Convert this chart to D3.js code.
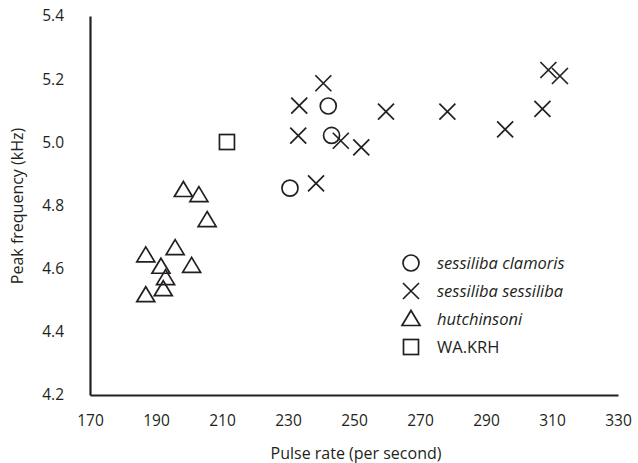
<!DOCTYPE html>
<html><head><meta charset="utf-8">
<script src="https://cdn.jsdelivr.net/npm/d3@7"></script>
<style>body{margin:0;background:#fff}</style>
</head><body>
<svg id="chart" width="638" height="463"></svg>
<script>
const xTicks = [170,190,210,230,250,270,290,310,330];
const yTicks = [4.2,4.4,4.6,4.8,5.0,5.2,5.4];
const clamoris = [[230.6,4.855],[242.2,5.115],[243.2,5.022]];
const sessiliba = [[240.7,5.187],[233.4,5.116],[233.1,5.021],[246.0,5.005],[252.2,4.984],[238.5,4.870],[259.7,5.097],[278.3,5.097],[295.8,5.041],[307.1,5.106],[308.9,5.229],[312.4,5.210]];
const hutchinsoni = [[198.3,4.849],[203.0,4.833],[205.5,4.754],[195.8,4.665],[186.9,4.642],[191.5,4.606],[200.8,4.609],[192.9,4.570],[192.2,4.535],[186.9,4.516]];
const wakrh = [[211.5,5.001]];
const legendLabels = ["sessiliba clamoris","sessiliba sessiliba","hutchinsoni","WA.KRH"];

const ink = "#231f20";
const svg = d3.select("#chart");
const x = d3.scaleLinear().domain([170,330]).range([90,618]);
const y = d3.scaleLinear().domain([4.2,5.4]).range([395,16]);
const font = "'Open Sans', sans-serif";

// axes
const xAxis = svg.append("g").attr("transform","translate(0,395)")
  .call(d3.axisBottom(x).tickValues(xTicks).tickSize(0).tickPadding(20).tickFormat(d3.format("d")));
const yAxis = svg.append("g").attr("transform","translate(90,0)")
  .call(d3.axisLeft(y).tickValues(yTicks).tickSize(0).tickPadding(26).tickFormat(d3.format(".1f")));
[xAxis,yAxis].forEach(a=>{
  a.select(".domain").attr("stroke",ink).attr("stroke-width",2.2);
  a.selectAll("text").attr("fill",ink).style("font-family",font).style("font-size","15.5px");
});

svg.append("text").attr("x",356).attr("y",459).attr("text-anchor","middle")
  .attr("fill",ink).style("font-family",font).style("font-size","16px").text("Pulse rate (per second)");
svg.append("text").attr("transform","translate(23,206) rotate(-90)").attr("text-anchor","middle")
  .attr("fill",ink).style("font-family",font).style("font-size","16px").text("Peak frequency (kHz)");

const sw = 1.7;
function drawShape(g, type){
  if(type===0) g.append("circle").attr("r",8).attr("fill","none").attr("stroke",ink).attr("stroke-width",sw);
  else if(type===1) g.append("path").attr("d","M-8,-8L8,8M-8,8L8,-8").attr("fill","none").attr("stroke",ink).attr("stroke-width",sw);
  else if(type===2) g.append("path").attr("d","M0,-8.5L9,6.5L-9,6.5Z").attr("fill","none").attr("stroke",ink).attr("stroke-width",sw).attr("stroke-linejoin","miter");
  else g.append("rect").attr("x",-7.5).attr("y",-7.5).attr("width",15).attr("height",15).attr("fill","none").attr("stroke",ink).attr("stroke-width",sw);
}
const series = [clamoris, sessiliba, hutchinsoni, wakrh];
series.forEach((data,i)=>{
  svg.append("g").selectAll("g").data(data).join("g")
    .attr("transform",d=>`translate(${x(d[0])},${y(d[1])})`)
    .each(function(){ drawShape(d3.select(this), i); });
});

// legend
legendLabels.forEach((lab,i)=>{
  const g = svg.append("g").attr("transform",`translate(411,${263+i*28})`);
  drawShape(g,i);
  g.append("text").attr("x",26).attr("y",5.5).attr("fill",ink).style("font-family",font)
    .style("font-size","16.5px").style("font-style",i<3?"italic":"normal").text(lab);
});
</script>
</body></html>
